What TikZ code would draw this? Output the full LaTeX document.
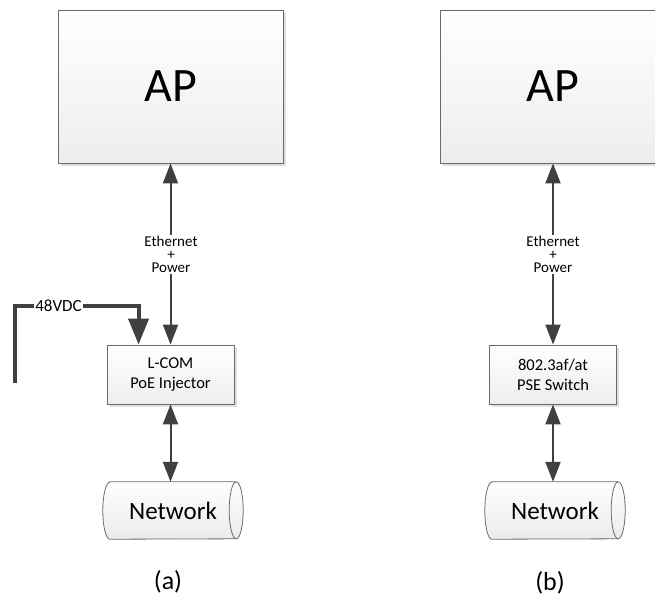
\documentclass[tikz,border=0pt]{standalone}
\usepackage{fontspec}
\setmainfont{Carlito}
\usetikzlibrary{arrows.meta,shadows}
\pgfdeclarelayer{bg}
\pgfsetlayers{bg,main}
\definecolor{linec}{HTML}{404040}
\definecolor{boxline}{HTML}{6A6A6A}
\tikzset{
  box/.style={rectangle, draw=boxline, line width=0.9pt, top color=white, bottom color=black!7,
    inner sep=0pt, align=center,
    drop shadow={shadow xshift=2.5pt, shadow yshift=-2.5pt, fill=black!13, opacity=1}},
  apbox/.style={box, minimum width=225pt, minimum height=153pt, font=\fontsize{48}{56}\selectfont},
  devbox/.style={box, minimum width=127pt, minimum height=59pt, font=\fontsize{16.5}{20}\selectfont},
  netnode/.style={rectangle, inner sep=0pt, minimum width=126pt, minimum height=57pt, font=\fontsize{25}{30}\selectfont},
  cyl/.style={draw=boxline, line width=0.8pt, top color=white, bottom color=black!8},
  arr/.style={draw=linec, line width=2pt, >={Triangle[length=20pt,width=15pt]}},
  pw/.style={draw=linec, line width=4pt, -{Triangle[length=26pt,width=20pt]}},
  lab/.style={fill=white, inner xsep=1pt, inner ysep=1.5pt, align=center, font=\fontsize{15}{13}\selectfont},
  vlab/.style={fill=white, inner xsep=1pt, inner ysep=1pt, font=\fontsize{17}{20}\selectfont},
  captext/.style={font=\fontsize{26}{30}\selectfont}
}
\begin{document}
\begin{tikzpicture}[x=1pt,y=-1pt]
\path[use as bounding box] (0,0) rectangle (655,598);
\clip (0,0) rectangle (655,598);

% ---------- (a) ----------
\node[apbox] (apa) at (170.5,86.5) {AP};
\node[devbox] (inj) at (170.5,374.5) {L-COM\\PoE Injector};
\node[netnode] (neta) at (173,510.5) {Network};
\node[captext] (capa) at (168,582) {(a)};

% ---------- (b) ----------
\node[apbox] (apb) at (553,86.5) {AP};
\node[devbox] (sw) at (553,374.5) {802.3af/at\\PSE Switch};
\node[netnode] (netb) at (555,510.5) {Network};
\node[captext] (capb) at (550,583) {(b)};

% cylinders
\begin{pgfonlayer}{bg}
\foreach \n in {neta,netb}{
  \shade[cyl] (\n.north west) -- (\n.north east)
     arc[start angle=270, end angle=450, x radius=7, y radius=28.5]
     -- (\n.south west)
     arc[start angle=90, end angle=270, x radius=7, y radius=28.5] -- cycle;
  \draw[draw=boxline, line width=0.8pt] (\n.north east)
     arc[start angle=270, end angle=90, x radius=7, y radius=28.5];
}
\end{pgfonlayer}

% connectors (a)
\draw[arr,<->] (apa.south) -- (inj.north);
\node[lab] (etha) at (171,254.5) {Ethernet\\+\\Power};
\draw[arr,<->] (inj.south) -- (inj.south |- neta.north);

\coordinate (vdc0) at (15,383);
\coordinate (vdc1) at (15,306);
\coordinate (vdcin) at ([xshift=32pt]inj.north west);
\draw[pw] (vdc0) -- (vdc1) -- (vdc1 -| vdcin) -- (vdcin);
\node[vlab] (vdc) at (58.5,306) {48VDC};

% connectors (b)
\draw[arr,<->] (apb.south) -- (sw.north);
\node[lab] (ethb) at (553,254.5) {Ethernet\\+\\Power};
\draw[arr,<->] (sw.south) -- (sw.south |- netb.north);
\end{tikzpicture}
\end{document}
